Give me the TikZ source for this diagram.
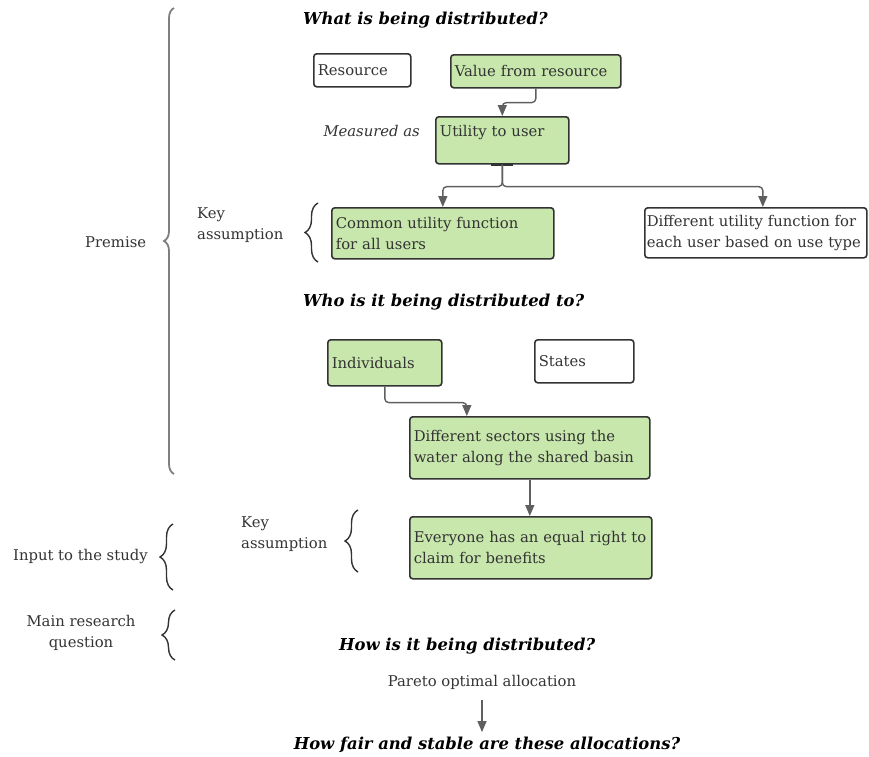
\documentclass[tikz,border=0pt]{standalone}
\usepackage{fontspec}
\setmainfont{DejaVu Serif}
\usetikzlibrary{arrows.meta,decorations.pathreplacing}

\definecolor{boxgreen}{RGB}{200,231,172}
\definecolor{boxline}{RGB}{51,51,51}
\definecolor{linkgray}{RGB}{95,95,95}
\definecolor{txt}{RGB}{51,51,51}

\tikzset{
  box/.style={draw=boxline, line width=1.6pt, rounded corners=3pt, anchor=north west,
    align=left, inner xsep=4pt, inner ysep=4pt, text=txt},
  greenbox/.style={box, fill=boxgreen},
  link/.style={draw=linkgray, line width=1.4pt, rounded corners=4pt, -{Triangle[length=11pt,width=9pt]}},
  curly/.style={decorate, decoration={brace, amplitude=#1}, line width=1.4pt, draw=boxline},
  heading/.style={font=\fontsize{16.4}{20}\selectfont\bfseries\itshape, text=black},
  label/.style={text=txt, align=left, anchor=west, inner xsep=0pt},
}

\begin{document}
\fontsize{14.8}{21}\selectfont
\begin{tikzpicture}[x=1pt,y=-1pt]
	\useasboundingbox (0,0) rectangle (869,756);
	% what is distributed
	\node[heading, anchor=west, inner xsep=0pt] (qwhat) at (303,20) {What is being distributed?};
	\node[box, text width=89pt, minimum height=33pt] (res) at (313,53) {Resource};
	\node[greenbox, text width=162pt, minimum height=33pt] (val) at (450,54) {Value from resource};
	\node[greenbox, text width=125pt, text height=16pt, text depth=23pt] (util) at (435,116) {Utility to user};
	\node[anchor=east, inner xsep=0pt, font=\itshape, text=txt] (meas) at (420,131) {Measured as};
	\node[greenbox, text width=214pt, minimum height=51pt] (common) at (331,207) {Common utility function\\for all users};
	\node[box, text width=218pt, inner xsep=2pt, minimum height=50pt] (diffu) at (644,207) {Different utility function for\\each user based on use type};
	\node[label] (key1) at (197,225) {Key\\assumption};
	\node[label] (premise) at (85,242) {Premise};
	\draw[link] (val.south) -- ++(0,14) -| (util.north);
	\draw[line width=3pt, boxline] ([xshift=-11pt]util.south) -- ([xshift=11pt]util.south);
	\draw[link] (util.south) -- ++(0,22) -| (common.north);
	\draw[link] (util.south) -- ++(0,22) -| ([xshift=7pt]diffu.north);
	% who
	\node[heading, anchor=west, inner xsep=0pt] (qwho) at (303,302) {Who is it being distributed to?};
	\node[greenbox, text width=106pt, minimum height=46pt] (indiv) at (327,339) {Individuals};
	\node[box, text width=91pt, minimum height=43pt] (states) at (534,339) {States};
	\node[greenbox, text width=232pt, minimum height=62pt] (sectors) at (409,416) {Different sectors using the\\water along the shared basin};
	\node[greenbox, text width=234pt, minimum height=62pt] (equal) at (409,516) {Everyone has an equal right to\\claim for benefits};
	\node[label] (key2) at (241,534) {Key\\assumption};
	\node[label] (input) at (13,557) {Input to the study};
	\node[text=txt, align=center] (mainq) at (81,633) {Main research\\question};
	\draw[link] (indiv.south) -- ++(0,16) -| ([xshift=-63pt]sectors.north);
	\draw[link] (sectors.south) -- (sectors.south |- equal.north);
	% how
	\node[heading, anchor=west, inner xsep=0pt] (qhow) at (339,646) {How is it being distributed?};
	\node[text=txt] (pareto) at (482,682) {Pareto optimal allocation};
	\node[heading] (qfair) at (487,745) {How fair and stable are these allocations?};
	\draw[link, shorten <=6pt] (pareto.south) -- (pareto.south |- qfair.north);
	% braces
	\draw[curly=10pt, draw=linkgray!80, line width=1.8pt] (174,474) -- (174,8);
	\foreach \x/\ya/\yb in {318/262/203, 358/572/510, 173/590/524, 175/660/610}
		\draw[curly=13pt] (\x,\ya) -- (\x,\yb);
\end{tikzpicture}
\end{document}
